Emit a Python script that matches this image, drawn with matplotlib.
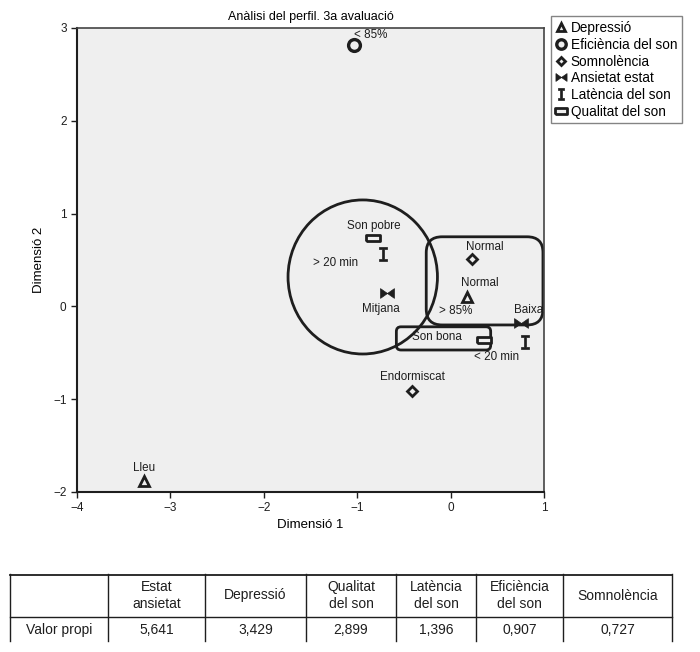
import matplotlib
matplotlib.use("Agg")
import matplotlib.pyplot as plt
from matplotlib.lines import Line2D
from matplotlib.patches import Ellipse, FancyBboxPatch

plt.rcParams["font.family"] = ["Liberation Sans", "DejaVu Sans"]

# category points (Dimensió 1, Dimensió 2)
depressio_lbl = ["Lleu", "Normal"]
depressio_x = [-3.28, 0.18]
depressio_y = [-1.88, 0.10]

eficiencia_lbl = ["< 85%", "> 85%"]
eficiencia_x = [-1.03]
eficiencia_y = [2.82]

somnolencia_lbl = ["Normal", "Endormiscat"]
somnolencia_x = [0.23, -0.41]
somnolencia_y = [0.51, -0.91]

ansietat_lbl = ["Mitjana", "Baixa"]
ansietat_x = [-0.68, 0.75]
ansietat_y = [0.145, -0.18]

latencia_lbl = ["> 20 min", "< 20 min"]
latencia_x = [-0.72, 0.80]
latencia_y = [0.565, -0.38]

qualitat_lbl = ["Son pobre", "Son bona"]
qualitat_x = [-0.83, 0.36]
qualitat_y = [0.74, -0.36]

# label anchor points
label_txt = ["< 85%", "Son pobre", "> 20 min", "Mitjana", "Normal", "Normal",
             "> 85%", "Baixa", "Son bona", "< 20 min", "Endormiscat", "Lleu"]
label_x = [-0.85, -0.82, -1.23, -0.745, 0.37, 0.315, 0.05, 0.84, -0.15, 0.49, -0.41, -3.28]
label_y = [2.925, 0.87, 0.47, -0.03, 0.64, 0.25, -0.05, -0.04, -0.33, -0.545, -0.76, -1.74]

# eigenvalue table
table_cols = ["Estat\nansietat", "Depressió", "Qualitat\ndel son", "Latència\ndel son",
              "Eficiència\ndel son", "Somnolència"]
table_vals = ["5,641", "3,429", "2,899", "1,396", "0,907", "0,727"]
row_name = "Valor propi"

ink = "#1e1e1e"
bg = "#efefef"

bowtie = [(-1, 0.7), (-1, -0.7), (0, 0), (1, -0.7), (1, 0.7), (0, 0), (-1, 0.7)]
ibeam = [(-0.55, 1), (0.55, 1), (0.55, 0.75), (0.2, 0.75), (0.2, -0.75), (0.55, -0.75),
         (0.55, -1), (-0.55, -1), (-0.55, -0.75), (-0.2, -0.75), (-0.2, 0.75),
         (-0.55, 0.75), (-0.55, 1)]
rect = [(-1, -0.5), (1, -0.5), (1, 0.5), (-1, 0.5), (-1, -0.5)]

styles = {
    "Depressió": dict(marker="^", ms=7.5, mew=2.0, mfc=bg),
    "Eficiència del son": dict(marker="o", ms=8.5, mew=2.4, mfc=bg),
    "Somnolència": dict(marker="D", ms=5.5, mew=2.0, mfc=bg),
    "Ansietat estat": dict(marker=bowtie, ms=10, mew=0.5, mfc=ink),
    "Latència del son": dict(marker=ibeam, ms=10, mew=0.5, mfc=ink),
    "Qualitat del son": dict(marker=rect, ms=10, mew=2.0, mfc=bg),
}
series = {
    "Depressió": (depressio_x, depressio_y),
    "Eficiència del son": (eficiencia_x, eficiencia_y),
    "Somnolència": (somnolencia_x, somnolencia_y),
    "Ansietat estat": (ansietat_x, ansietat_y),
    "Latència del son": (latencia_x, latencia_y),
    "Qualitat del son": (qualitat_x, qualitat_y),
}

fig = plt.figure(figsize=(7, 6.52), dpi=100)
ax = fig.add_axes([0.110, 0.2454, 0.667, 0.7117])
ax.set_facecolor(bg)

for name, (xs, ys) in series.items():
    ax.plot(xs, ys, ls="none", mec=ink, color=ink, zorder=3, **styles[name])

for t, x, y in zip(label_txt, label_x, label_y):
    ax.text(x, y, t, fontsize=8.4, ha="center", va="center", color=ink, zorder=4)

# groupings
ax.add_patch(Ellipse((-0.94, 0.317), 1.6, 1.66, fill=False, lw=2.0, ec=ink))
ax.add_patch(FancyBboxPatch((-0.10, -0.04), 0.93, 0.63,
                            boxstyle="round,pad=0.16,rounding_size=0.17",
                            fill=False, lw=2.0, ec=ink))
ax.add_patch(FancyBboxPatch((-0.54, -0.43), 0.93, 0.17,
                            boxstyle="round,pad=0.04,rounding_size=0.05",
                            fill=False, lw=2.0, ec=ink))

ax.set_xlim(-4, 1)
ax.set_ylim(-2, 3)
ax.set_xticks([-4, -3, -2, -1, 0, 1])
ax.set_yticks([-2, -1, 0, 1, 2, 3])
ax.set_xticklabels(["\u22124", "\u22123", "\u22122", "\u22121", "0", "1"])
ax.set_yticklabels(["\u22122", "\u22121", "0", "1", "2", "3"])
ax.tick_params(direction="out", length=4, width=1, labelsize=8.5, colors=ink)
for s in ["left", "bottom"]:
    ax.spines[s].set_linewidth(1.5)
    ax.spines[s].set_color(ink)
for s in ["top", "right"]:
    ax.spines[s].set_linewidth(1.2)
    ax.spines[s].set_color("#444444")
ax.set_xlabel("Dimensió 1", fontsize=9.5, labelpad=3)
ax.set_ylabel("Dimensió 2", fontsize=9.5, labelpad=6)
ax.set_title("Anàlisi del perfil. 3a avaluació", fontsize=9, pad=6)

handles = [Line2D([], [], ls="none", mec=ink, color=ink,
                  **{**styles[n], "ms": styles[n]["ms"] * 0.8}) for n in series]
leg = fig.legend(handles, list(series.keys()), loc="upper left",
                 bbox_to_anchor=(0.787, 0.975), fontsize=9.8, frameon=True,
                 fancybox=False, edgecolor="#666666", handlelength=0.8,
                 handletextpad=0.3, borderpad=0.35, labelspacing=0.2,
                 borderaxespad=0)
leg.get_frame().set_linewidth(1.0)

# table
edges = [10, 108, 205, 306, 396, 476, 563, 672]
tx0, tx1, ty0, ty1 = 10, 672, 574, 641
tax = fig.add_axes([tx0 / 700, 1 - ty1 / 652, (tx1 - tx0) / 700, (ty1 - ty0) / 652])
tax.set_xlim(tx0, tx1)
tax.set_ylim(ty1, ty0)
tax.axis("off")
mid = 617
tax.plot([tx0, tx1], [ty0 + 0.5, ty0 + 0.5], color=ink, lw=1.3, clip_on=False)
tax.plot([tx0, tx1], [mid, mid], color=ink, lw=1.0, clip_on=False)
for e in edges:
    tax.plot([e, e], [ty0, ty1], color=ink, lw=1.0, clip_on=False)
for i, (c, v) in enumerate(zip(table_cols, table_vals)):
    cx = (edges[i + 1] + edges[i + 2]) / 2
    tax.text(cx, (ty0 + mid) / 2, c, ha="center", va="center", fontsize=10,
             color=ink, linespacing=1.2)
    tax.text(cx, (mid + ty1) / 2 + 1, v, ha="center", va="center", fontsize=10, color=ink)
tax.text((edges[0] + edges[1]) / 2, (mid + ty1) / 2 + 1, row_name, ha="center",
         va="center", fontsize=10, color=ink)

fig.savefig("out.png", dpi=100, facecolor="white")
